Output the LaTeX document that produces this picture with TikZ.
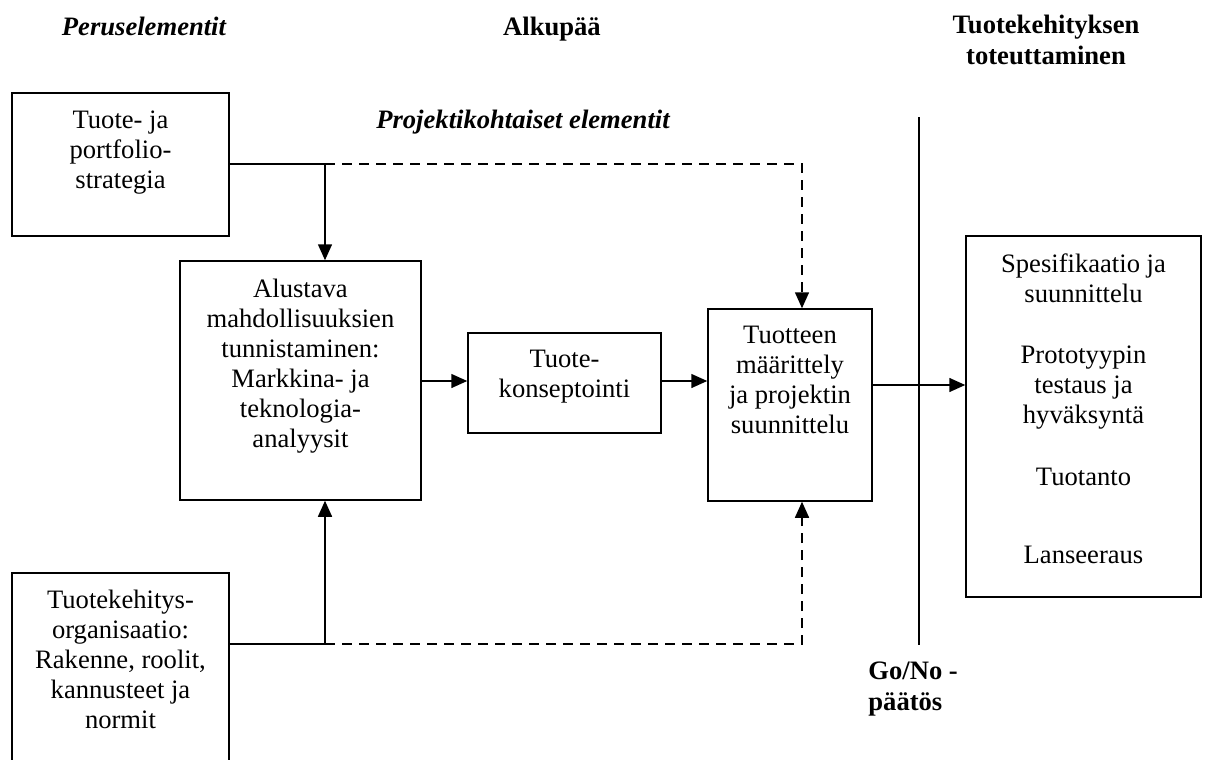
\documentclass[tikz,border=0pt]{standalone}
\usepackage{fontspec}
\setmainfont{Liberation Serif}
\usetikzlibrary{arrows.meta,fit}

% forces a fixed height on the first line so that text blocks can be placed by baseline
\newcommand{\firstln}{\rule{0pt}{10pt}}

\begin{document}
\begin{tikzpicture}[x=0.5pt,y=-0.5pt,
  box/.style={draw, line width=0.75pt, inner sep=0pt, rectangle},
  txt/.style={font=\fontsize{13.3}{15}\selectfont, align=center, inner sep=0pt, anchor=north},
  head/.style={font=\fontsize{13.3}{15.5}\selectfont\bfseries, align=center, inner sep=0pt, anchor=north},
  headit/.style={head, font=\fontsize{13.3}{15.5}\selectfont\bfseries\itshape},
  link/.style={line width=0.75pt},
  arr/.style={link, -{Triangle[length=8pt,width=7pt]}},
  dlink/.style={link, dash pattern=on 5pt off 3.5pt},
  darr/.style={dlink, -{Triangle[length=8pt,width=7pt]}},
]
\clip (0,0) rectangle (1215,760);

% column headings
\node[headit] (hPerus) at (144,15) {\firstln Peruselementit};
\node[head] (hAlku) at (552,15) {\firstln Alkupää};
\node[head] (hToteutus) at (1046,13) {\firstln Tuotekehityksen\\toteuttaminen};
\node[headit] (hProj) at (523,108) {\firstln Projektikohtaiset elementit};

% boxes
\node[box, fit={(12,93) (229,236)}] (b1) {};
\node[box, fit={(180,261) (421,500)}] (b2) {};
\node[box, fit={(468,333) (661,433)}] (b3) {};
\node[box, fit={(708,309) (872,501)}] (b4) {};
\node[box, fit={(966,236) (1201,597)}] (b5) {};
\node[box, fit={(12,573) (229,820)}] (b6) {};

% box texts
\node[txt] (t1) at (120.5,108) {\firstln Tuote- ja\\portfolio-\\strategia};
\node[txt] (t2) at (300.5,277) {\firstln Alustava\\mahdollisuuksien\\tunnistaminen:\\Markkina- ja\\teknologia-\\analyysit};
\node[txt] (t3) at (564.5,347) {\firstln Tuote-\\konseptointi};
\node[txt] (t4) at (790,323) {\firstln Tuotteen\\määrittely\\ja projektin\\suunnittelu};
\node[txt] (t5a) at (1083.5,252) {\firstln Spesifikaatio ja\\suunnittelu};
\node[txt] (t5b) at (1083.5,343) {\firstln Prototyypin\\testaus ja\\hyväksyntä};
\node[txt] (t5c) at (1083.5,465) {\firstln Tuotanto};
\node[txt] (t5d) at (1083.5,543) {\firstln Lanseeraus};
\node[txt] (t6) at (120.5,588) {\firstln Tuotekehitys-\\organisaatio:\\Rakenne, roolit,\\kannusteet ja\\normit};

% Go/No decision line
\coordinate (g1) at (919,117);
\coordinate (g2) at (919,645);
\draw[link] (g1) -- (g2);
\node[head, anchor=north west, align=left] (hGo) at (868,659) {\firstln Go/No -\\päätös};

% junctions of the feed lines
\coordinate (j1) at (325,164);
\coordinate (d1) at (802,164);
\coordinate (j2) at (325,644);
\coordinate (d2) at (802,644);

% strategy feeds
\draw[link] (b1.east |- j1) -- (j1);
\draw[arr] (j1) -- (j1 |- b2.north);
\draw[darr] (j1) -- (d1) -- (d1 |- b4.north);

% organisation feeds
\draw[link] (b6.east |- j2) -- (j2);
\draw[arr] (j2) -- (j2 |- b2.south);
\draw[darr] (j2) -- (d2) -- (d2 |- b4.south);

% main flow
\coordinate (m1) at (0,381);
\coordinate (m2) at (0,385);
\draw[arr] (b2.east |- m1) -- (b3.west |- m1);
\draw[arr] (b3.east |- m1) -- (b4.west |- m1);
\draw[arr] (b4.east |- m2) -- (b5.west |- m2);
\end{tikzpicture}
\end{document}
